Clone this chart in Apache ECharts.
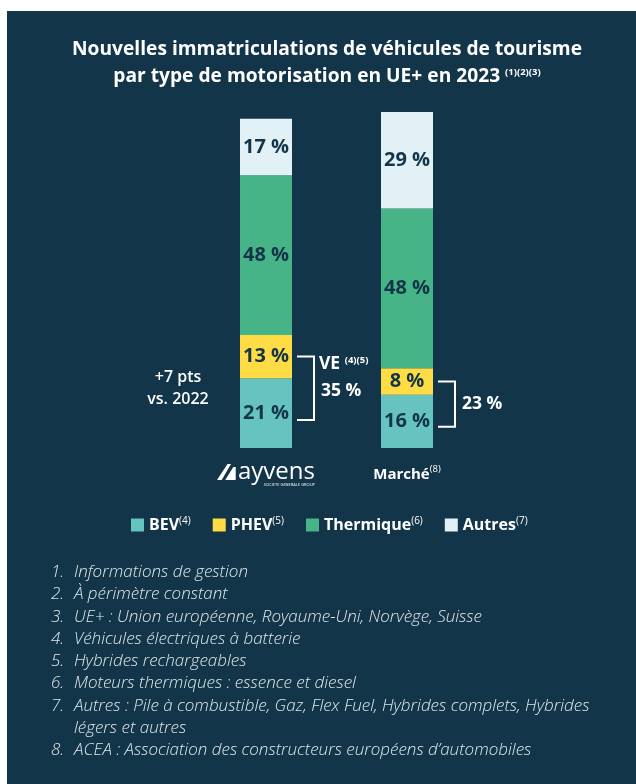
<!DOCTYPE html>
<html>
<head>
<meta charset="utf-8">
<script src="https://cdn.jsdelivr.net/npm/echarts@6/dist/echarts.min.js"></script>
<style>
html,body{margin:0;padding:0;background:#ffffff;}
#c{position:absolute;left:0;top:0;width:636px;height:784px;}
</style>
</head>
<body>
<div id="c"></div>
<script>
// ---- data ----
const categories = ['ayvens', 'Marché'];
const bev = [21, 16];
const phev = [13, 8];
const thermique = [48, 48];
const autres = [17, 29];
const veTotals = [35, 23];
const seriesNames = ['BEV', 'PHEV', 'Thermique', 'Autres'];
const seriesNotes = ['(4)', '(5)', '(6)', '(7)'];
const deltaText = ['+7 pts', 'vs. 2022'];
const titleLines = ['Nouvelles immatriculations de véhicules de tourisme', 'par type de motorisation en UE+ en 2023'];
const titleNotes = '(1)(2)(3)';
const footnotes = [
  'Informations de gestion',
  'À périmètre constant',
  'UE+ : Union européenne, Royaume-Uni, Norvège, Suisse',
  'Véhicules électriques à batterie',
  'Hybrides rechargeables',
  'Moteurs thermiques : essence et diesel',
  'Autres : Pile à combustible, Gaz, Flex Fuel, Hybrides complets, Hybrides\nlégers et autres',
  'ACEA : Association des constructeurs européens d’automobiles'
];

const BG = '#13354a';
const colors = ['#67c3bf', '#ffdc45', '#47b487', '#e1f1f5'];
const FONT = '"Open Sans", sans-serif';
const BAR_W = 52;

const chart = echarts.init(document.getElementById('c'), null, {renderer: 'canvas'});

function barSeries(i, data) {
  return {
    name: seriesNames[i], type: 'bar', stack: 'total', barWidth: BAR_W,
    data: data,
    itemStyle: {color: colors[i]},
    label: {show: true, position: 'inside', formatter: '{c} %', color: BG,
      fontFamily: FONT, fontWeight: 'bold', fontSize: 20},
    emphasis: {disabled: true}, animation: false
  };
}

const bracketData = categories.map((c, i) => [i, bev[i], phev[i], veTotals[i]]);

const logoSvg = 'data:image/svg+xml;utf8,' + encodeURIComponent(
  '<svg xmlns="http://www.w3.org/2000/svg" width="18" height="16" viewBox="0 0 18 16">' +
  '<polygon points="0,16 9,0 12,0 4,16" fill="white"/>' +
  '<polygon points="7,16 14,3 16,3 16,16" fill="white"/></svg>');

const numCol = footnotes.map((f, i) => (i + 1) + '.' + (f.indexOf('\n') >= 0 ? '\n' : '')).join('\n');

chart.setOption({
  backgroundColor: '#ffffff',
  animation: false,
  title: {
    text: titleLines[0] + '\n' + titleLines[1] + ' {sup|' + titleNotes + '}',
    left: 322, top: 31, textAlign: 'center',
    textStyle: {color: '#ffffff', fontFamily: FONT, fontWeight: 'bold', fontSize: 19.2, lineHeight: 27,
      rich: {sup: {color: '#ffffff', fontFamily: FONT, fontWeight: 'bold', fontSize: 9.5, padding: [0,0,8,0]}}}
  },
  legend: {
    left: 126, top: 511, itemWidth: 13, itemHeight: 13, itemGap: 22, icon: 'rect',
    data: seriesNames,
    formatter: function (n) { return n + '{sup|' + seriesNotes[seriesNames.indexOf(n)] + '}'; },
    textStyle: {color: '#ffffff', fontFamily: FONT, fontWeight: 'bold', fontSize: 16,
      rich: {sup: {color: '#ffffff', fontFamily: FONT, fontWeight: 'normal', fontSize: 10, padding: [0,0,8,0]}}},
    selectedMode: false
  },
  grid: {left: 195.5, width: 282, top: 112, height: 336},
  xAxis: {
    type: 'category', data: categories,
    axisLine: {show: false}, axisTick: {show: false},
    axisLabel: {
      margin: 14, interval: 0, hideOverlap: false,
      formatter: function (v, i) {
        if (i === 0) return '{icon|}{logo|ayvens}\n{sub|SOCIETE GENERALE GROUP}';
        return '{m|' + v + '}{sup|(8)}';
      },
      rich: {
        icon: {width: 18, height: 16, backgroundColor: {image: logoSvg}, padding: [0, 3, 0, 0]},
        logo: {color: '#ffffff', fontFamily: FONT, fontSize: 24, fontWeight: 'normal', lineHeight: 20},
        sub: {color: '#ffffff', fontFamily: FONT, fontSize: 4, align: 'right', lineHeight: 5},
        m: {color: '#ffffff', fontFamily: FONT, fontWeight: 'bold', fontSize: 15, padding: [5, 0, 0, 0]},
        sup: {color: '#ffffff', fontFamily: FONT, fontWeight: 'normal', fontSize: 9.5, padding: [0,0,5,0]}
      }
    }
  },
  yAxis: {type: 'value', min: 0, max: 101, show: false, splitLine: {show: false}},
  series: [
    barSeries(0, bev), barSeries(1, phev), barSeries(2, thermique), barSeries(3, autres),
    {
      type: 'custom', data: bracketData, z: 5, silent: true,
      renderItem: function (params, api) {
        const idx = api.value(0), b = api.value(1), p = api.value(2), ve = api.value(3);
        const top = api.coord([idx, b + p / 2]);
        const bot = api.coord([idx, b * 0.4]);
        const cx = top[0];
        const x0 = cx + BAR_W / 2 + 5, x1 = x0 + 17;
        const mid = (top[1] + bot[1]) / 2;
        const children = [{
          type: 'polyline',
          shape: {points: [[x0, top[1]], [x1, top[1]], [x1, bot[1]], [x0, bot[1]]]},
          style: {stroke: '#ffffff', lineWidth: 2, fill: null}
        }];
        const txt = {fill: '#ffffff', fontFamily: FONT, fontWeight: 'bold', fontSize: 17.5};
        if (idx === 0) {
          children.push({type: 'text', x: x1 + 5, y: mid - 24, style: Object.assign({}, txt, {
            text: 'VE {s|(4)(5)}', verticalAlign: 'middle', align: 'left',
            rich: {s: {fill: '#ffffff', fontFamily: FONT, fontWeight: 'bold', fontSize: 9.5, padding: [0,0,8,0]}}})});
          children.push({type: 'text', x: x1 + 7, y: mid + 3, style: Object.assign({}, txt, {
            text: ve + ' %', verticalAlign: 'middle', align: 'left'})});
          children.push({type: 'text', x: cx - 88, y: mid, style: {
            text: deltaText.join('\n'), fill: '#ffffff', fontFamily: FONT, fontWeight: 600, fontSize: 16,
            lineHeight: 22, align: 'center', verticalAlign: 'middle'}});
        } else {
          children.push({type: 'text', x: x1 + 7, y: mid, style: Object.assign({}, txt, {
            text: ve + ' %', verticalAlign: 'middle', align: 'left'})});
        }
        return {type: 'group', children: children};
      }
    }
  ],
  graphic: [
    {type: 'rect', left: 7, top: 11, z: -10, silent: true, shape: {width: 629, height: 773}, style: {fill: BG}},
    {type: 'text', left: 51, top: 561, silent: true, style: {text: numCol, fill: '#dfe6ea', fontFamily: FONT,
      fontStyle: 'italic', fontWeight: 300, fontSize: 17, lineHeight: 22.3}},
    {type: 'text', left: 74, top: 561, silent: true, style: {text: footnotes.join('\n'), fill: '#dfe6ea', fontFamily: FONT,
      fontStyle: 'italic', fontWeight: 300, fontSize: 17, lineHeight: 22.3}}
  ]
});
</script>
</body>
</html>
